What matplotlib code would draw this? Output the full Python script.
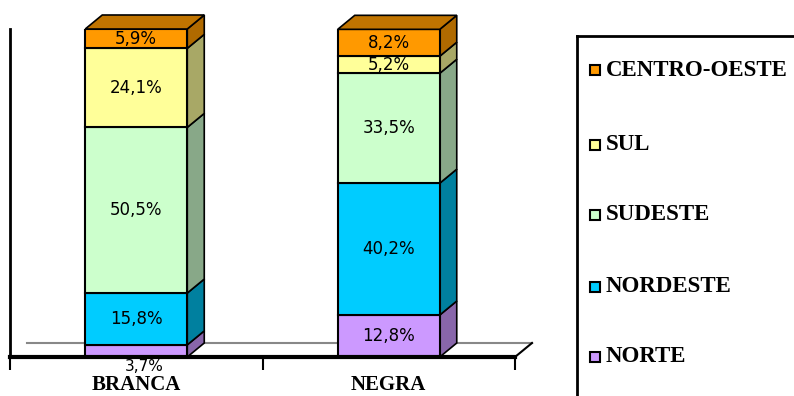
import matplotlib.pyplot as plt
from matplotlib.patches import Polygon, Rectangle
from matplotlib.lines import Line2D

# share of each racial group by region (%)
groups = ['BRANCA', 'NEGRA']
regions = ['NORTE', 'NORDESTE', 'SUDESTE', 'SUL', 'CENTRO-OESTE']
branca = [3.7, 15.8, 50.5, 24.1, 5.9]
negra = [12.8, 40.2, 33.5, 5.2, 8.2]
labels_branca = ['3,7%', '15,8%', '50,5%', '24,1%', '5,9%']
labels_negra = ['12,8%', '40,2%', '33,5%', '5,2%', '8,2%']

front_colors = ['#CC99FF', '#00CCFF', '#CCFFCC', '#FFFF99', '#FF9900']
side_colors = ['#8866AA', '#00809F', '#88A888', '#A8A866', '#B06A00']
top_color = '#C07400'

W, H = 794, 396
fig = plt.figure(figsize=(W / 100, H / 100), dpi=100)
ax = fig.add_axes([10 / W, (H - 357) / H, 505 / W, 328 / H])
ax.set_xlim(0, 2)
ax.set_ylim(0, 100)

# 3D depth in data units
dx = 17 / 252.5
dy = 14 / 3.28
width = 0.404
xpos = [0.5, 1.5]

# floor back edge
ax.plot([dx, 2 + dx], [dy, dy], color='#888888', lw=1.5, zorder=1, clip_on=False)
ax.plot([2, 2 + dx], [0, dy], color='black', lw=1.5, zorder=1, clip_on=False)

for x, vals, labs in zip(xpos, [branca, negra], [labels_branca, labels_negra]):
    bottom = 0
    for k, v in enumerate(vals):
        ax.bar(x, v, width, bottom=bottom, color=front_colors[k],
               edgecolor='black', lw=1.5, zorder=3)
        xr = x + width / 2
        side = Polygon([(xr, bottom), (xr + dx, bottom + dy),
                        (xr + dx, bottom + v + dy), (xr, bottom + v)],
                       closed=True, facecolor=side_colors[k],
                       edgecolor='black', lw=1.2, zorder=2, clip_on=False)
        ax.add_patch(side)
        # label in the middle of the segment, below the axis if too thin
        if v < 4:
            ax.text(x + 0.03, -2.9, labs[k], ha='center', va='center',
                    fontsize=11, zorder=7, clip_on=False)
        else:
            ax.text(x, bottom + v / 2, labs[k], ha='center', va='center',
                    fontsize=12, zorder=5)
        bottom += v
    xl = x - width / 2
    top = Polygon([(xl, bottom), (xl + dx, bottom + dy),
                   (xl + width + dx, bottom + dy), (xl + width, bottom)],
                  closed=True, facecolor=top_color, edgecolor='black',
                  lw=1.2, zorder=4, clip_on=False)
    ax.add_patch(top)

for x, g in zip(xpos, groups):
    ax.text(x, -11.5, g, ha='center', va='bottom', fontsize=15,
            fontweight='bold', family='Liberation Serif', clip_on=False)

for s in ['top', 'right']:
    ax.spines[s].set_visible(False)
ax.spines['left'].set_linewidth(2)
ax.spines['bottom'].set_linewidth(3)
ax.spines['bottom'].set_zorder(6)
ax.set_yticks([])
ax.set_xticks([0, 1, 2])
ax.set_xticklabels([])
ax.tick_params(axis='x', direction='out', length=9, width=1.5)
ax.patch.set_visible(False)

# legend panel
fig.add_artist(Line2D([577 / W, 577 / W], [0, (H - 36) / H],
                      transform=fig.transFigure, color='black', lw=2))
fig.add_artist(Line2D([577 / W, 1], [(H - 36) / H, (H - 36) / H],
                      transform=fig.transFigure, color='black', lw=2))
legend_y = [70, 145, 215, 287, 357]
for k, yy in zip(range(len(regions) - 1, -1, -1), legend_y):
    fig.add_artist(Rectangle((590 / W, (H - yy - 5) / H), 10 / W, 10 / H,
                             transform=fig.transFigure,
                             facecolor=front_colors[k], edgecolor='black', lw=1.5))
    fig.text(606 / W, (H - yy) / H, regions[k], ha='left', va='center',
             fontsize=16.5, fontweight='bold', family='Liberation Serif')

fig.savefig('out.png', dpi=100)
